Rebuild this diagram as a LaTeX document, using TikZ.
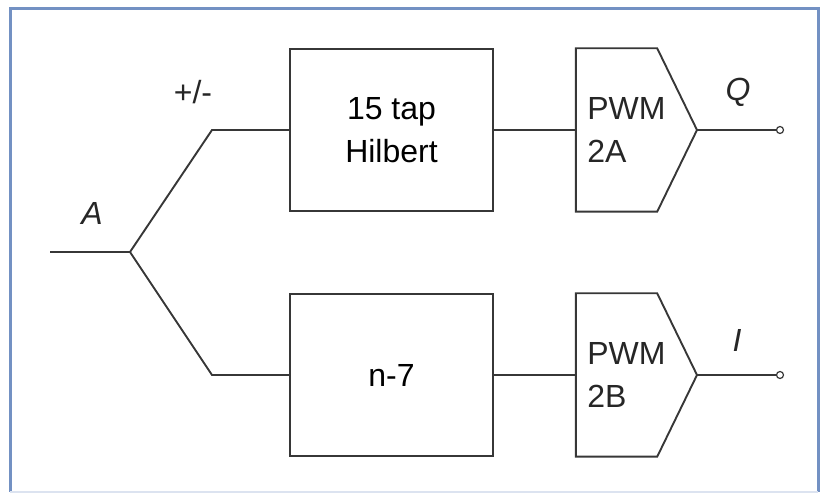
\documentclass[tikz,border=0pt]{standalone}
\usepackage{fontspec}
\setmainfont{Liberation Sans}
\definecolor{linegray}{RGB}{55,55,55}
\definecolor{frameblue}{RGB}{115,145,195}
\tikzset{
    hilbert/.style={
        block/.style={draw=linegray, line width=1.9pt, minimum width=203pt,
            minimum height=162pt, align=center, font=\fontsize{32}{43}\selectfont},
        pwm/.style={minimum width=81pt, minimum height=163pt, inner sep=0pt},
        wire/.style={draw=linegray, line width=1.9pt},
        port/.style={circle, draw=linegray, fill=white, line width=1.2pt,
            inner sep=0pt, minimum size=7pt},
        lbl/.style={font=\fontsize{32}{43}\selectfont, text=black!85},
    },
}

\begin{document}
\begin{tikzpicture}[hilbert, x=1pt, y=-1pt]
            \useasboundingbox (0,0) rectangle (823,494);
            \draw[frameblue, line width=3pt] (10,492) -- (10,9) -- (818,9) -- (818,492);
            \draw[frameblue!25, line width=2pt] (10,492) -- (818,492);

            \coordinate (in)    at (50,252);
            \coordinate (fork)  at (130,252);
            \coordinate (bendQ) at (212,130);
            \coordinate (bendI) at (212,375);
            \node[block] (hilb)  at (391.5,130) {15 tap\\Hilbert};
            \node[block] (delay) at (391.5,375) {n-7};
            \node[pwm]   (pwmA)  at (616.5,130) {};
            \node[pwm]   (pwmB)  at (616.5,375) {};
            \coordinate (tipA) at (697,130);
            \coordinate (tipB) at (697,375);
            \node[port] (outQ) at (780,130) {};
            \node[port] (outI) at (780,375) {};

            \foreach \p/\t/\s in {pwmA/tipA/2A, pwmB/tipB/2B} {
                \draw[wire] (\p.north west) -- (\p.north east) -- (\t)
                    -- (\p.south east) -- (\p.south west) -- cycle;
                \node[lbl, align=left, anchor=west] at ([xshift=8pt]\p.west) {PWM\\\s};
            }

            \draw[wire] (in) -- (fork) -- (bendQ) -- (hilb.west |- bendQ);
            \draw[wire] (fork) -- (bendI) -- (delay.west |- bendI);
            \draw[wire] (hilb.east) -- (pwmA.west);
            \draw[wire] (delay.east) -- (pwmB.west);
            \draw[wire] (tipA) -- (outQ);
            \draw[wire] (tipB) -- (outI);

            \node[lbl] (pm)   at (193,92)  {+/-};
            \node[lbl] (labA) at (92,213)  {\textit{A}};
            \node[lbl] (labQ) at (738,92)  {\textit{Q}};
            \node[lbl] (labI) at (737,340) {\textit{I}};
        \end{tikzpicture}
\end{document}
